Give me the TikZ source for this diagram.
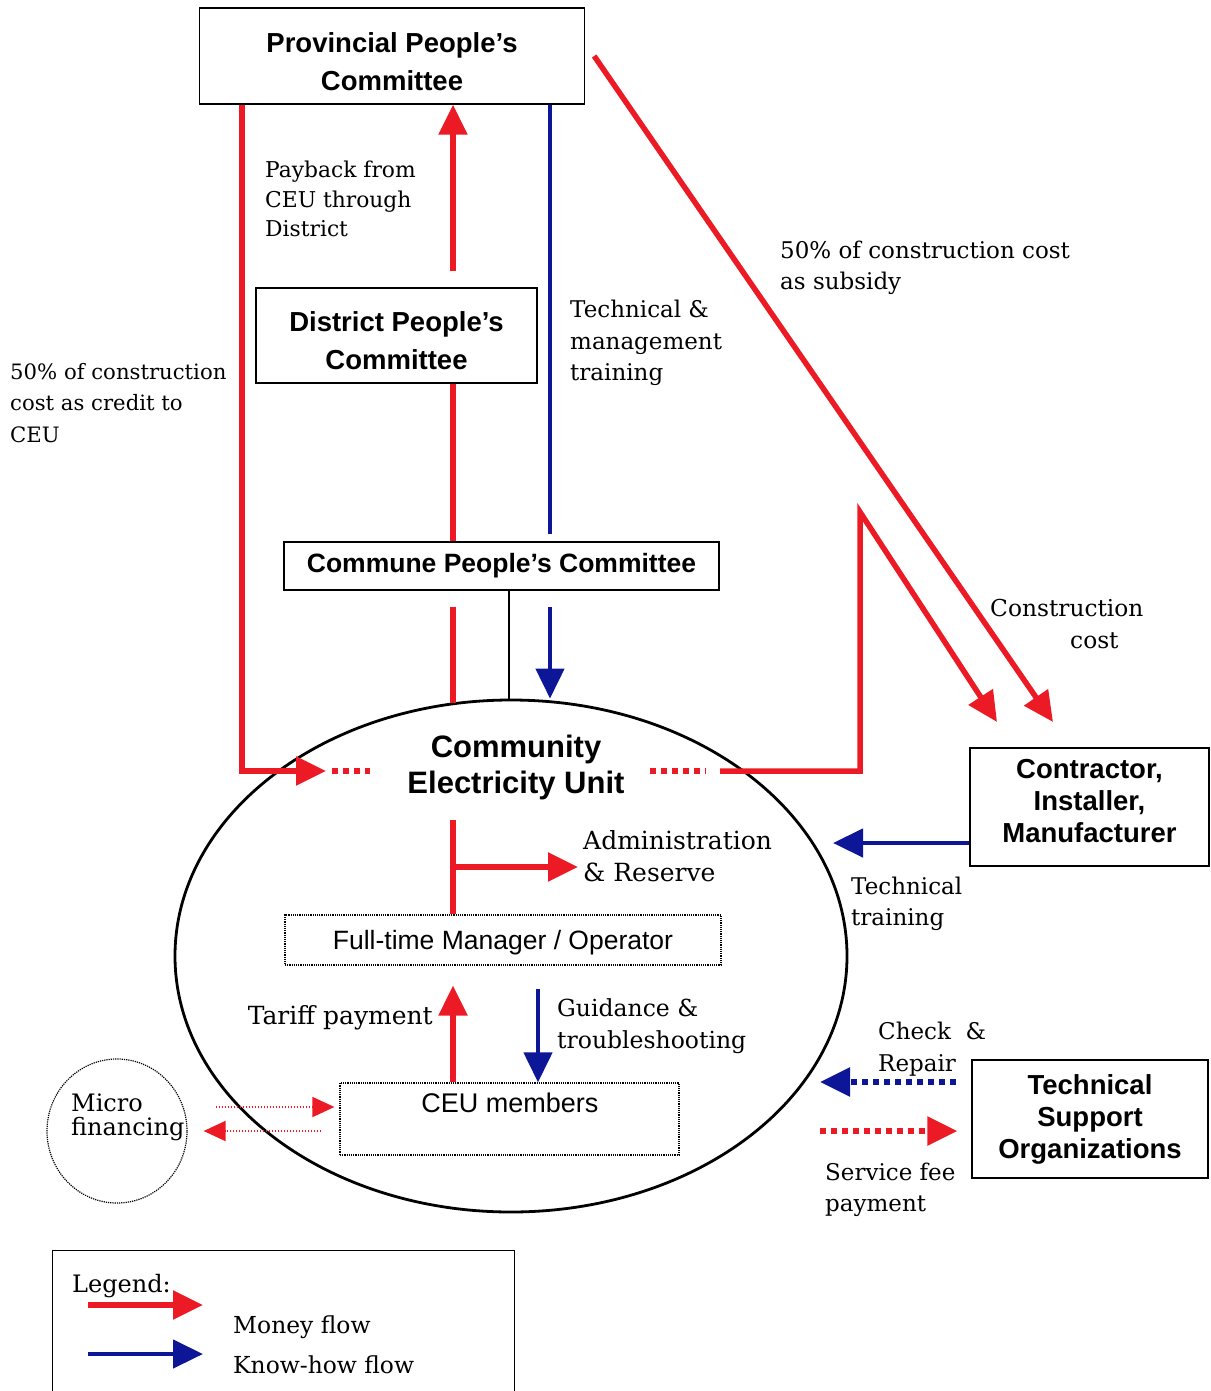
\documentclass[tikz,border=0pt]{standalone}
\usepackage{fontspec}
\setmainfont{DejaVu Serif}
\setsansfont{Liberation Sans}
\usepackage{xcolor}
\usetikzlibrary{arrows.meta, positioning, shapes.geometric, calc}
\definecolor{moneyred}{RGB}{236,26,36}
\definecolor{knowblue}{RGB}{12,22,150}

\begin{document}
\begin{tikzpicture}[
    x=1pt, y=-1pt,
    org/.style={draw, line width=1.3pt, align=center, inner sep=2pt,
                font=\sffamily\bfseries\fontsize{27.5}{38}\selectfont},
    member/.style={draw, densely dotted, line width=1.2pt, inner sep=2pt,
                   font=\sffamily\fontsize{26.5}{30}\selectfont},
    lbl/.style={align=left, inner sep=0pt,
                font=\fontsize{23}{31.5}\selectfont},
    money/.style={moneyred, line width=5.5pt},
    knowhow/.style={knowblue, line width=4.5pt},
    bighead/.style={-{Triangle[length=30pt, width=28pt]}},
    dotline/.style={line width=5.5pt, dash pattern=on 6pt off 5pt},
    thinflow/.style={moneyred, line width=1.8pt, dash pattern=on 1.8pt off 1.2pt,
                     -{Triangle[length=22pt, width=20pt]}},
]
\useasboundingbox (0,0) rectangle (1210,1391);

\node[draw, ellipse, line width=2.8pt, minimum width=672pt, minimum height=512pt] (ceu) at (511,956) {};
\node[org, draw=none, font=\sffamily\bfseries\fontsize{31}{36}\selectfont] (ceutxt) at (516,767) {Community\\Electricity Unit};

\node[org, minimum width=385pt, minimum height=96pt] (prov) at (392,56) {\rule{0pt}{31pt}Provincial People's\\Committee};
\node[org, minimum width=281pt, minimum height=95pt] (dist) at (396.5,335.5) {\rule{0pt}{30pt}District People's\\Committee};
\node[org, minimum width=435pt, minimum height=48pt,
      font=\sffamily\bfseries\fontsize{26.5}{30}\selectfont] (comm) at (501.5,566) {Commune People's Committee};
\node[org, minimum width=239pt, minimum height=118pt,
      font=\sffamily\bfseries\fontsize{27.5}{32}\selectfont] (contr) at (1089.5,807) {Contractor,\\Installer,\\Manufacturer\rule[-12pt]{0pt}{0pt}};
\node[org, minimum width=236pt, minimum height=118pt,
      font=\sffamily\bfseries\fontsize{27.5}{32}\selectfont] (tso) at (1090,1119) {Technical\\Support\\Organizations};

\node[member, minimum width=436pt, minimum height=50pt, text height=25pt] (mgr) at (503,940) {Full-time Manager / Operator};
\node[member, minimum width=339pt, minimum height=72pt] (mem) at (509.5,1119) {};
\node[member, draw=none, font=\sffamily\fontsize{27}{30}\selectfont] (memtxt) at (510,1103) {CEU members};
\node[draw, ellipse, densely dotted, line width=1.2pt, minimum width=140pt, minimum height=144pt] (micro) at (117,1131) {};
\node[lbl, anchor=west, font=\fontsize{24}{24}\selectfont] (microtxt) at (71,1117) {Micro\\financing};

\node[lbl, anchor=west, font=\fontsize{21.2}{31.5}\selectfont] (credit) at (10,403) {50\% of construction\\cost as credit to\\CEU};
\node[lbl, anchor=west, font=\fontsize{21.8}{29.5}\selectfont] (payback) at (265,199) {Payback from\\CEU through\\District};
\node[lbl, anchor=west] (training) at (570,343) {Technical \&\\management\\training};
\node[lbl, anchor=west] (subsidy) at (780,268) {50\% of construction cost\\as subsidy};
\node[lbl, anchor=west, font=\fontsize{23.3}{31.5}\selectfont] (concost) at (990,624) {Construction\\\hspace*{80pt}cost};
\node[lbl, anchor=west, font=\fontsize{25}{31.5}\selectfont] (admtxt) at (583,856) {Administration\\\& Reserve};
\node[lbl, anchor=west] (techtrn) at (851,904) {Technical\\training};
\node[lbl, anchor=east, font=\fontsize{25}{31.5}\selectfont] (tariff) at (433,1018) {Tariff payment};
\node[lbl, anchor=west, font=\fontsize{23.5}{31.5}\selectfont] (guide) at (557,1026) {Guidance \&\\troubleshooting};
\node[lbl, anchor=west] (check) at (878,1049) {Check\ \ \&\\Repair};
\node[lbl, anchor=west] (fee) at (825,1190) {Service fee\\payment};

\node[draw, line width=1.3pt, minimum width=462pt, minimum height=150pt, anchor=north west] (legend) at (52,1250) {};
\node[lbl, anchor=west, font=\fontsize{24}{30}\selectfont] (lgtitle) at (72,1286) {Legend:};
\node[lbl, anchor=west, font=\fontsize{23.4}{30}\selectfont] (lgmoney) at (233,1327) {Money flow};
\node[lbl, anchor=west, font=\fontsize{23.4}{30}\selectfont] (lgknow) at (233,1365) {Know-how flow};

\coordinate (lx) at (242,0);
\coordinate (sp) at (453,0);
\coordinate (lk) at (509,0);
\coordinate (gx) at (538,0);
\coordinate (bx) at (550,0);
\coordinate (ceuL) at (326,771);
\coordinate (ceuR) at (720,771);
\coordinate (peak) at (860,512);
\coordinate (conTip) at (997,722);
\coordinate (subTip) at (1053,722);
\coordinate (spC) at (453,820);
\coordinate (adm) at (453,867);
\coordinate (trnTip) at (833,843);
\coordinate (mfa) at (0,1107);
\coordinate (mfb) at (0,1131);
\coordinate (chkTip) at (820,1082);
\coordinate (feeTail) at (820,1131);
\coordinate (lgm) at (88,1305);
\coordinate (lgk) at (88,1354);

\draw[money, bighead] (prov.south -| lx) |- (ceuL);
\draw[money, dotline] ([xshift=6pt]ceuL) -- ([xshift=44pt]ceuL);
\draw[money, bighead, shorten <=16pt] (dist.north -| sp) -- (prov.south -| sp);
\draw[money] (dist.south -| sp) -- (comm.north -| sp);
\draw[money, shorten <=16pt, shorten >=-4pt] (comm.south -| sp) -- (sp |- ceu.north);
\draw[line width=1.2pt] (comm.south -| lk) -- (lk |- ceu.north);
\draw[knowhow, shorten >=7pt] (prov.south -| bx) -- (comm.north -| bx);
\draw[knowhow, bighead, shorten <=16pt] (comm.south -| bx) -- (bx |- ceu.north);
\draw[money, bighead] ([xshift=9pt]prov.east) -- (subTip);
\draw[money, dotline] ([xshift=-70pt]ceuR) -- ([xshift=-14pt]ceuR);
\draw[money, bighead] (ceuR) -| (peak) -- (conTip);
\draw[knowhow, bighead] (contr.west |- trnTip) -- (trnTip);
\draw[money] (spC) -- (spC |- mgr.north);
\draw[money, bighead, shorten >=5pt] (adm) -- (adm -| admtxt.west);
\draw[money, bighead, shorten >=20pt] (mem.north -| sp) -- (mgr.south -| sp);
\draw[knowhow, bighead, shorten <=23pt] (mgr.south -| gx) -- (mem.north -| gx);
\draw[thinflow, shorten <=28pt, shorten >=5pt] (micro.east |- mfa) -- (mem.west |- mfa);
\draw[thinflow, shorten <=18pt, shorten >=16pt] (mem.west |- mfb) -- (micro.east |- mfb);
\draw[knowblue, dotline, bighead, shorten <=15pt] (tso.west |- chkTip) -- (chkTip);
\draw[moneyred, dotline, bighead, shorten >=14pt] (feeTail) -- (tso.west |- feeTail);
\draw[money, bighead, shorten >=30pt] (lgm) -- (lgm -| lgmoney.west);
\draw[knowhow, bighead, shorten >=30pt] (lgk) -- (lgk -| lgknow.west);
\end{tikzpicture}
\end{document}
